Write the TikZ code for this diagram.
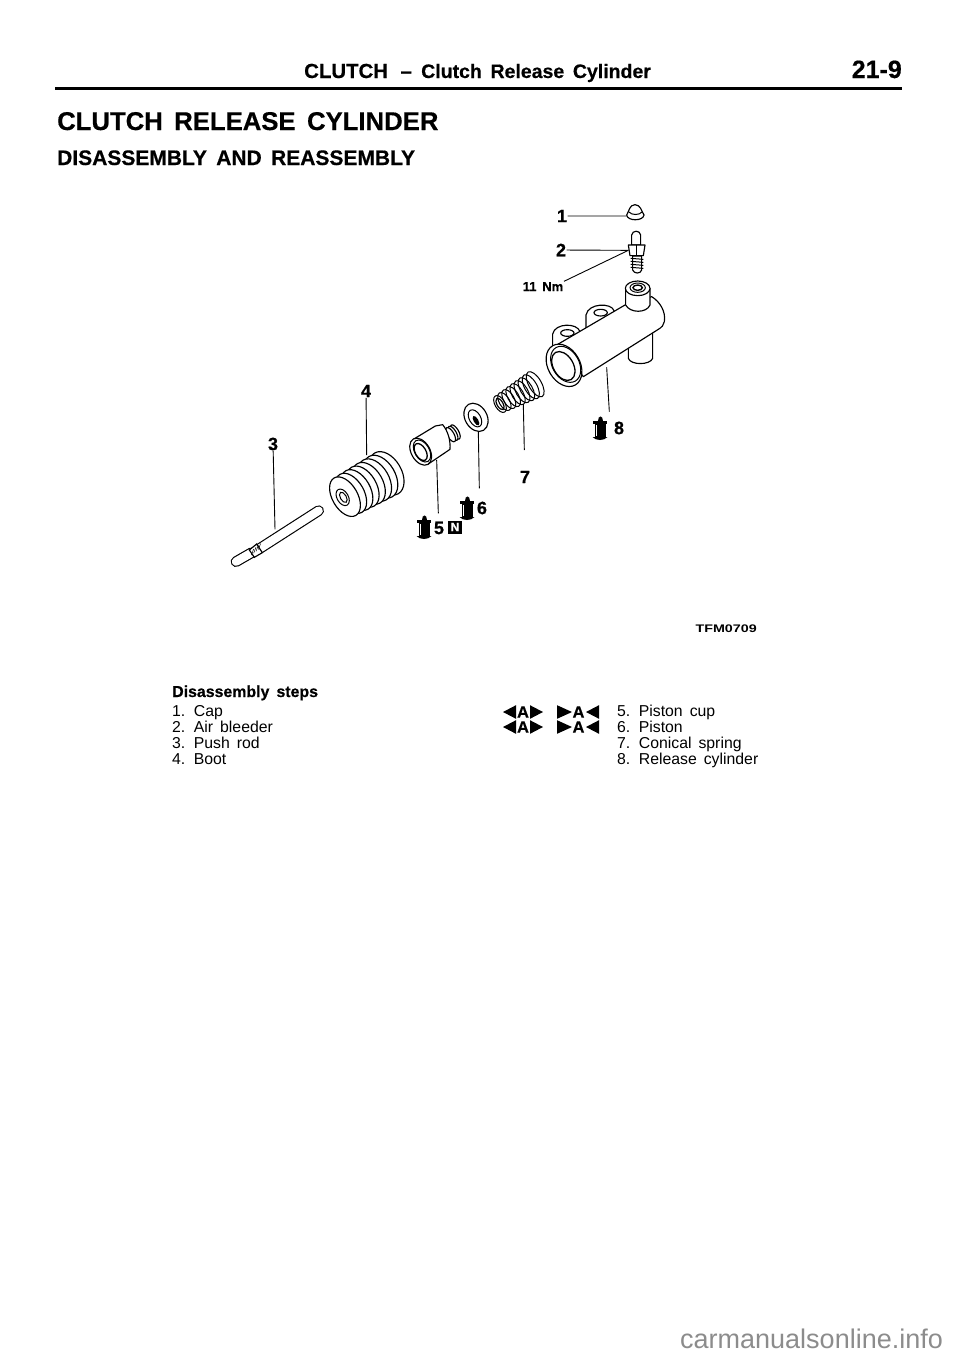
\documentclass[tikz,border=0pt]{standalone}
\usepackage{fontspec}
\setmainfont{Liberation Sans}[WordSpace=1.6,BoldFeatures={FakeBold=0.5}]
\newfontface\tagfont{Liberation Sans Bold}[FakeStretch=1.3]
\usetikzlibrary{positioning}
\tikzset{
	part/.style={draw=black,fill=white,line width=1.15pt,line join=round},
	coil/.style={draw=black,line width=1pt},
	leader/.style={draw=black,line width=0.9pt},
	rodline/.style={draw=black,line width=1.15pt,double=white,double distance=8.4pt,line cap=round},
	num/.style={font=\bfseries\fontsize{18}{20}\selectfont,inner sep=0.5pt},
	row/.style={anchor=base west,inner sep=0,font=\fontsize{15.8}{18}\selectfont},
	headline/.style={anchor=base west,inner sep=0},
	oilcan/.pic={
		\fill (-2.5,-7) .. controls (-2.5,-13) and (2.5,-13) .. (2.5,-7) -- cycle;
		\fill (-7,-7) rectangle (7,-4);
		\fill (-5.5,-4) rectangle (5.5,9);
		\fill (-7.5,9) .. controls (-4,13) and (4,13) .. (7.5,9) -- cycle;
		\draw[white,line width=0.5pt] (-3.5,-3) -- (-3.5,8);
	},
	markin/.pic={
		\fill (-20,0) -- (-7,-6.8) -- (-7,6.8) -- cycle;
		\fill (20,0) -- (7,-6.8) -- (7,6.8) -- cycle;
		\node[inner sep=0,font=\bfseries\fontsize{16.5}{18}\selectfont] (-a) at (0,0) {A};
	},
	markout/.pic={
		\fill (-21,-6.8) -- (-6,0) -- (-21,6.8) -- cycle;
		\fill (21,-6.8) -- (8,0) -- (21,6.8) -- cycle;
		\node[inner sep=0,font=\bfseries\fontsize{16.5}{18}\selectfont] (-a) at (0.5,0) {A};
	}
}
\begin{document}
\begin{tikzpicture}[x=1pt,y=-1pt]
	\useasboundingbox (0,0) rectangle (960,1358);
	% page head
	\node[headline,font=\bfseries\fontsize{20.4}{22}\selectfont] (headA) at (304,78) {CLUTCH \,--};
	\node[headline,font=\bfseries\fontsize{19.5}{22}\selectfont] (headB) at (421,78) {Clutch Release Cylinder};
	\node[headline,anchor=base east,font=\bfseries\fontsize{25}{27}\selectfont] (pageno) at (902,78) {21-9};
	\coordinate (ruleL) at (55,88);
	\coordinate (ruleR) at (902,88);
	\draw[line width=3pt] (ruleL) -- (ruleR);
	\node[headline,font=\bfseries\fontsize{25.7}{28}\selectfont] (title) at (57,130) {CLUTCH RELEASE CYLINDER};
	\node[headline,font=\bfseries\fontsize{21}{24}\selectfont] (subtitle) at (57,165) {DISASSEMBLY AND REASSEMBLY};

	% cap, bleeder, cylinder, spring
	\begin{scope}[shift={(480,190)},scale=1/3]
		\draw[part] (440,75) .. controls (448,62) and (448,45) .. (465,44) .. controls (482,45) and (484,62) .. (492,75)
			.. controls (490,94) and (442,94) .. (440,75) -- cycle;
		\draw[coil] (447,66) .. controls (455,76) and (478,76) .. (486,66);
		\coordinate (capL) at (440,78);
		\draw[part] (455,165) -- (455,135) .. controls (457,120) and (480,120) .. (482,135) -- (482,165) -- cycle;
		\draw[part] (458,198) -- (458,240) .. controls (462,252) and (482,252) .. (485,240) -- (485,198) -- cycle;
		\foreach \ty in {205,214,223,232}
			\draw[coil] (452,\ty) -- (490,\ty+3);
		\draw[part] (445,165) -- (495,165) -- (490,197) -- (450,197) -- cycle;
		\draw[coil] (468,165) -- (468,197);
		\coordinate (bleedL) at (445,181);
		% lugs and lower boss
		\draw[part] (445,430) -- (445,505) .. controls (452,526) and (510,526) .. (518,505) -- (518,430) -- cycle;
		\draw[part] (218,480) -- (218,432) .. controls (225,398) and (292,398) .. (300,425) -- (300,470) -- cycle;
		\draw[part] (262,429) ellipse (20 and 10);
		\draw[part] (318,420) -- (318,375) .. controls (325,338) and (395,338) .. (402,362) -- (402,400) -- cycle;
		\draw[part] (362,368) ellipse (20 and 10);
		% body
		\draw[part] (235,462) -- (435,345) -- (515,320) .. controls (540,335) and (558,365) .. (553,395)
			.. controls (552,405) and (545,412) .. (535,418) -- (310,560) -- cycle;
		% upper boss
		\draw[part] (437,345) -- (437,295) -- (510,295) -- (510,345) .. controls (500,370) and (450,370) .. (437,345) -- cycle;
		\draw[part] (473,295) ellipse (37 and 22);
		\draw[coil] (473,293) ellipse (23 and 14);
		\draw[coil,line width=1.4pt] (473,293) ellipse (14 and 8);
		% open end
		\draw[part] (252,526) ellipse [x radius=48,y radius=68,rotate=30];
		\draw[coil] (257,523) ellipse [x radius=40,y radius=58,rotate=30];
		\draw[coil,line width=1.3pt] (250,528) ellipse [x radius=30,y radius=47,rotate=30];
		\coordinate (bodyB) at (380,532);
		\coordinate (end8) at (388,665);
		% conical spring
		\foreach \sp in {0,1,...,8}
			\draw[coil] ({60+13.2*\sp},{642-7.4*\sp}) ellipse [x radius={15+0.5*\sp},y radius={28+1.8*\sp},rotate=30];
		\draw[coil,line width=1.2pt] (60,642) ellipse [x radius=9,y radius=19,rotate=30];
		\coordinate (springB) at (130,645);
		\coordinate (end7) at (133,780);
	\end{scope}

	% rod, boot, piston, cup
	\begin{scope}[shift={(210,370)},scale=1/3]
		\draw[rodline] (78,575) -- (125,548);
		\draw[rodline] (150,535) -- (326,422);
		\draw[black,line width=1.15pt,fill=white] (118,540) -- (140,522) -- (157,548) -- (133,562) -- cycle;
		\foreach \rx in {124,131,138,145}
			\draw[coil,line width=0.5pt] (\rx,{560-(\rx-118)*0.8}) -- (\rx+7,{536-(\rx-118)*0.8+6});
		\coordinate (rodT) at (195,478);
		% boot, back rib first
		\foreach \rb in {7,6,...,0}
			\draw[part] ({405+17.8*\rb},{380-10*\rb}) ellipse [x radius={38+1*\rb},y radius={65+0.8*\rb},rotate=30];
		\draw[coil] (398,382) ellipse [x radius=17,y radius=27,rotate=30];
		\draw[coil] (400,382) ellipse [x radius=9,y radius=17,rotate=30];
		\coordinate (bootT) at (470,255);
		% piston
		\foreach \pn in {2,1,0}
			\draw[part] ({722+7*\pn},{194-4*\pn}) ellipse [x radius=10,y radius=24,rotate=30];
		\draw[part] (610,208) -- (676,168) -- (698,164) .. controls (714,183) and (722,212) .. (720,238) -- (655,282) -- cycle;
		\draw[part] (632,245) ellipse [x radius=28,y radius=44,rotate=30];
		\draw[coil] (636,243) ellipse [x radius=22,y radius=36,rotate=30];
		\draw[coil,line width=1.3pt] (632,246) ellipse [x radius=16,y radius=28,rotate=30];
		\coordinate (pistonB) at (680,270);
		\coordinate (end5) at (685,430);
		% piston cup
		\draw[part] (798,142) ellipse [x radius=33,y radius=45,rotate=30];
		\draw[coil] (795,145) ellipse [x radius=17,y radius=28,rotate=30];
		\fill (798,152) ellipse [x radius=7,y radius=16,rotate=30];
		\coordinate (cupB) at (805,185);
		\coordinate (end6) at (808,355);
	\end{scope}

	% part numbers
	\node[num] (n1) at (562,216) {1};
	\node[num] (n2) at (561,250) {2};
	\node[num,font=\bfseries\fontsize{13}{15}\selectfont,anchor=base] (torque) at (543,291) {11 Nm};
	\node[num] (n3) at (273,444) {3};
	\node[num] (n4) at (366,391) {4};
	\node[num] (n5) at (439,528) {5};
	\node[num] (n6) at (482,508) {6};
	\node[num] (n7) at (525,477) {7};
	\node[num] (n8) at (619,428) {8};
	\node[fill=black,text=white,font=\bfseries\fontsize{12}{13}\selectfont,inner sep=0,minimum width=14pt,minimum height=13pt] (newpart) at (455,527) {N};

	\pic at (424,527) {oilcan};
	\pic at (467,508) {oilcan};
	\pic at (600,428) {oilcan};

	% leader lines
	\draw[leader] (n1) -- (capL);
	\draw[leader] (n2) -- (bleedL);
	\draw[leader] (torque.north east) -- (bleedL);
	\draw[leader] (n3) -- (rodT);
	\draw[leader] (n4) -- (bootT);
	\draw[leader] (pistonB) -- (end5);
	\draw[leader] (cupB) -- (end6);
	\draw[leader] (springB) -- (end7);
	\draw[leader] (bodyB) -- (end8);

	\node[anchor=base east,inner sep=0,font=\tagfont\fontsize{11}{12}\selectfont] (figno) at (757,632) {TFM0709};

	% step lists
	\node[row,font=\bfseries\fontsize{15.9}{18}\selectfont] (steps) at (172,697) {Disassembly steps};
	\foreach \rw/\ry/\rt in {1/716/1. Cap,2/732/2. Air bleeder,3/748/3. Push rod,4/764/4. Boot}
		\node[row] (left\rw) at (172,\ry) {\rt};
	\foreach \rw/\ry/\rt in {5/716/5. Piston cup,6/732/6. Piston,7/748/7. Conical spring,8/764/8. Release cylinder}
		\node[row] (right\rw) at (617,\ry) {\rt};
	\pic (markA) at (523,712) {markin};
	\pic (markB) at (523,727) {markin};
	\pic (markC) at (578,712) {markout};
	\pic (markD) at (578,727) {markout};

	\node[headline,text=black!45,font=\fontsize{27}{29}\selectfont] (site) at (680,1348) {carmanualsonline.info};
\end{tikzpicture}
\end{document}
